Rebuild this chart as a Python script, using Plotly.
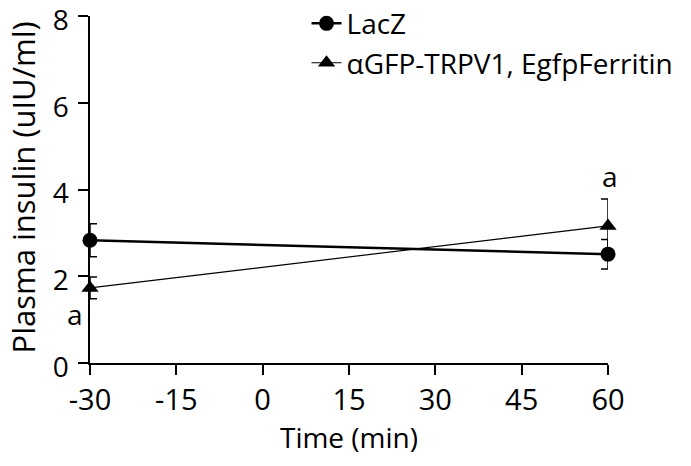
import plotly.graph_objects as go

time_min = [-30, 60]
lacz_mean = [2.83, 2.51]
lacz_err = [0.38, 0.34]
trpv1_mean = [1.73, 3.16]
trpv1_err = [0.25, 0.62]
x_ticks = [-30, -15, 0, 15, 30, 45, 60]
x_ticklabels = ["-30", "-15", "0", "15", "30", "45", "60"]
y_ticks = [0, 2, 4, 6, 8]
sig_labels = ["a", "a"]
sig_x = [-30, 60]
sig_y = [1.12, 4.3]
sig_xshift = [-15, 2]
y_title = "Plasma insulin (uIU/ml)"
x_title = "Time (min)"

font = "Open Sans, Liberation Sans, sans-serif"

fig = go.Figure()
fig.add_trace(go.Scatter(
    x=time_min, y=lacz_mean, name="LacZ", mode="lines+markers",
    line=dict(color="black", width=2.5),
    marker=dict(symbol="circle", size=15, color="black"),
    error_y=dict(type="data", array=lacz_err, color="black", thickness=1.5, width=7),
    cliponaxis=False,
))
fig.add_trace(go.Scatter(
    x=time_min, y=trpv1_mean, name="αGFP-TRPV1, EgfpFerritin", mode="lines+markers",
    line=dict(color="black", width=1.2),
    marker=dict(symbol="triangle-up", size=15, color="black"),
    error_y=dict(type="data", array=trpv1_err, color="black", thickness=1.5, width=7),
    cliponaxis=False,
))
for t, xv, yv, xs in zip(sig_labels, sig_x, sig_y, sig_xshift):
    fig.add_annotation(x=xv, y=yv, text=t, showarrow=False, xshift=xs,
                       font=dict(size=28, color="black", family=font))

# y-axis title placed as rotated text left of the tick labels
fig.add_annotation(x=0, y=0.5, xref="paper", yref="paper", text=y_title,
                   textangle=-90, showarrow=False, xanchor="center", yanchor="middle",
                   xshift=-68, yshift=2, font=dict(size=31, color="black", family=font))

fig.update_layout(
    width=691, height=466,
    margin=dict(l=90, r=83, t=16, b=103, autoexpand=False),
    paper_bgcolor="white", plot_bgcolor="white",
    font=dict(family=font, size=28, color="black"),
    showlegend=True,
    legend=dict(x=0.418, y=1.05, xanchor="left", yanchor="top",
                bgcolor="rgba(0,0,0,0)", font=dict(size=28), tracegroupgap=0,
                itemwidth=30),
    xaxis=dict(range=[-30, 60], tickvals=x_ticks, ticktext=x_ticklabels,
               showgrid=False, zeroline=False,
               showline=True, linecolor="black", linewidth=1.5,
               ticks="outside", ticklen=10, tickwidth=1.5, tickcolor="black",
               ticklabeloverflow="allow",
               title=dict(text=x_title, standoff=10, font=dict(size=28)),
               tickfont=dict(size=29)),
    yaxis=dict(range=[0, 8], tickvals=y_ticks, showgrid=False, zeroline=False,
               showline=True, linecolor="black", linewidth=1.5,
               ticks="outside", ticklen=10, tickwidth=1.5, tickcolor="black",
               ticklabeloverflow="allow", ticklabelstandoff=4, ticklabelshift=4,
               tickfont=dict(size=28)),
)
fig.write_html("out.html", config={"displayModeBar": False},
               post_script="document.body.style.margin='0';")
